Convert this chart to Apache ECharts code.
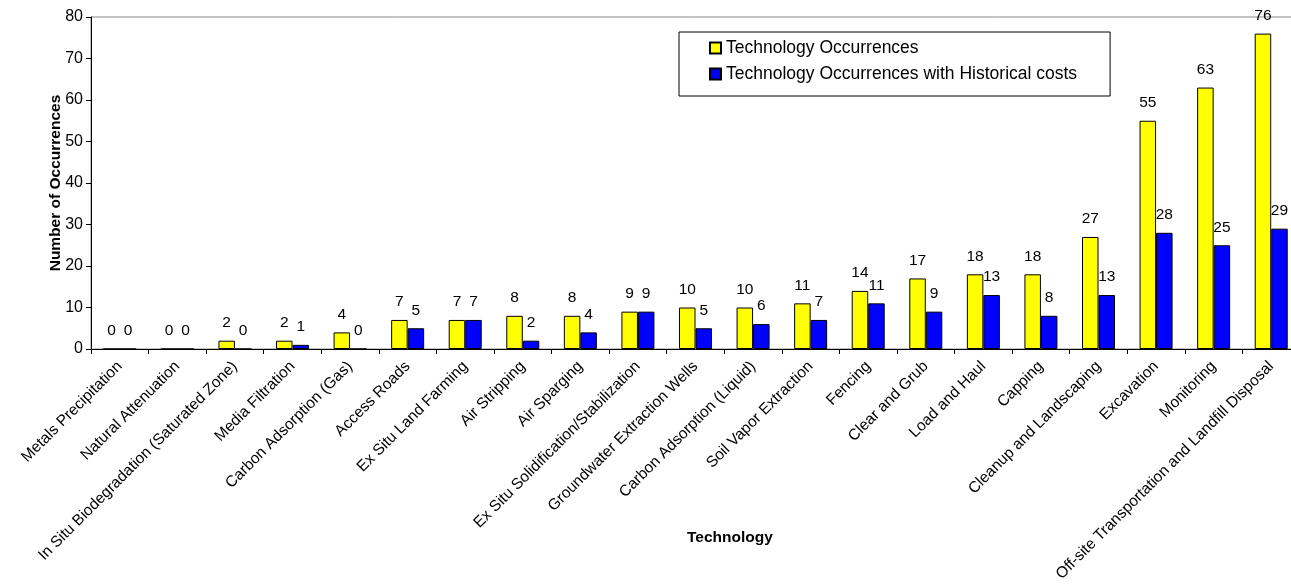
<!DOCTYPE html>
<html><head><meta charset="utf-8">
<script src="https://cdn.jsdelivr.net/npm/echarts@6/dist/echarts.min.js"></script>
<style>html,body{margin:0;padding:0;background:#fff;overflow:hidden}#c{width:1300px;height:588px}</style>
</head><body><div id="c"></div>
<script>
const categories = ["Metals Precipitation","Natural Attenuation","In Situ Biodegradation (Saturated Zone)","Media Filtration","Carbon Adsorption (Gas)","Access Roads","Ex Situ Land Farming","Air Stripping","Air Sparging","Ex Situ Solidification/Stabilization","Groundwater Extraction Wells","Carbon Adsorption (Liquid)","Soil Vapor Extraction","Fencing","Clear and Grub","Load and Haul","Capping","Cleanup and Landscaping","Excavation","Monitoring","Off-site Transportation and Landfill Disposal"];
const occurrences = [0,0,2,2,4,7,7,8,8,9,10,10,11,14,17,18,18,27,55,63,76];
const withCosts = [0,0,0,1,0,5,7,2,4,9,5,6,7,11,9,13,8,13,28,25,29];
const seriesNames = ["Technology Occurrences","Technology Occurrences with Historical costs"];
const F = "Liberation Sans, Arial, sans-serif";
const chart = echarts.init(document.getElementById('c'), null, {renderer:'canvas'});
chart.setOption({
  animation:false,
  textStyle:{fontFamily:F},
  grid:{left:91, top:17, right:0, bottom:239, show:true, borderColor:'#888', borderWidth:1, containLabel:false},
  legend:{
    orient:'vertical', left:679, top:32, padding:[7,33,13,30],
    backgroundColor:'#fff', borderColor:'#000', borderWidth:1, borderRadius:0,
    itemWidth:11, itemHeight:11, itemGap:8, icon:'rect',
    textStyle:{fontFamily:F, fontSize:17.5, color:'#000'},
    data:seriesNames
  },
  xAxis:{
    type:'category', data:categories,
    axisLine:{lineStyle:{color:'#000'}},
    axisTick:{show:true, lineStyle:{color:'#000'}, length:5},
    axisLabel:{rotate:45, interval:0, fontSize:15.5, color:'#000', fontFamily:F, margin:15}
  },
  yAxis:{
    type:'value', min:0, max:80, interval:10,
    name:'Number of Occurrences', nameLocation:'middle', nameGap:27, nameMoveOverlap:false,
    nameTextStyle:{fontWeight:'bold', fontSize:15.5, color:'#000', fontFamily:F},
    axisLine:{show:true, lineStyle:{color:'#000'}},
    axisTick:{show:true, lineStyle:{color:'#000'}, length:5},
    axisLabel:{fontSize:16, color:'#000', fontFamily:F, margin:8},
    splitLine:{show:false}
  },
  series:[
    {name:seriesNames[0], type:'bar', data:occurrences, barWidth:16.5, barGap:'0%',
     itemStyle:{color:'#ffff00', borderColor:'#000', borderWidth:1},
     label:{show:true, position:'top', distance:10, fontSize:15.5, color:'#000', fontFamily:F}},
    {name:seriesNames[1], type:'bar', data:withCosts, barWidth:16.5, barGap:'0%',
     itemStyle:{color:'#0000ff', borderColor:'#000', borderWidth:1},
     label:{show:true, position:'top', distance:10, fontSize:15.5, color:'#000', fontFamily:F}}
  ],
  graphic:[{type:'text', left:687, top:530, style:{text:'Technology', font:'bold 15.5px '+F, fill:'#000'}}]
});
</script></body></html>
